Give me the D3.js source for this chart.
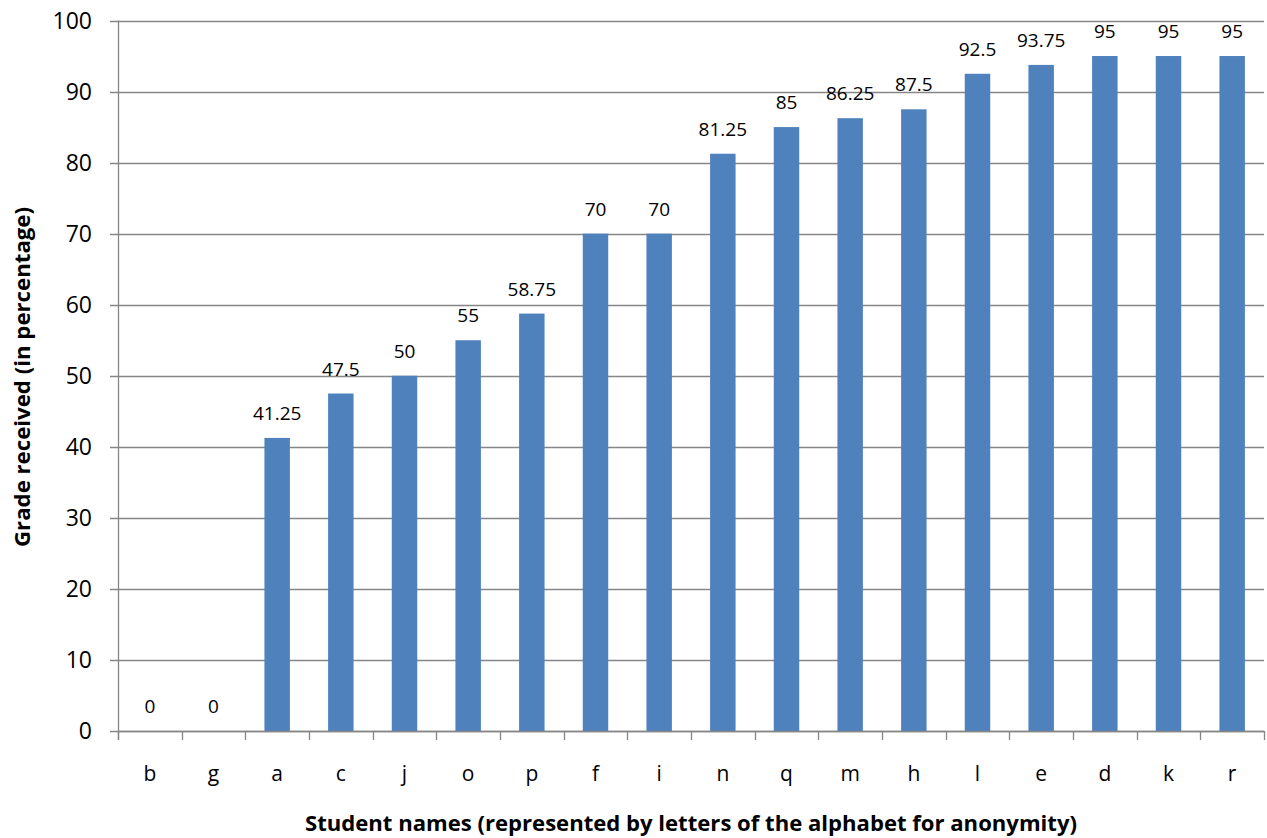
<!DOCTYPE html>
<html>
<head>
<meta charset="utf-8">
<script src="https://cdn.jsdelivr.net/npm/d3@7"></script>
<style>
  html, body { margin: 0; padding: 0; background: #fff; }
  svg { display: block; }
  text { font-family: "Open Sans", "Noto Sans", sans-serif; fill: #000; }
</style>
</head>
<body>
<svg id="chart" width="1267" height="838"></svg>
<script>
// Students (anonymised letters), sorted by grade
const students = ["b", "g", "a", "c", "j", "o", "p", "f", "i", "n", "q", "m", "h", "l", "e", "d", "k", "r"];
const grades = [0, 0, 41.25, 47.5, 50, 55, 58.75, 70, 70, 81.25, 85, 86.25, 87.5, 92.5, 93.75, 95, 95, 95];
const yTicks = [0, 10, 20, 30, 40, 50, 60, 70, 80, 90, 100];

const xTitle = "Student names (represented by letters of the alphabet for anonymity)";
const yTitle = "Grade received (in percentage)";

const data = students.map((s, i) => ({ name: s, value: grades[i] }));

const svg = d3.select("#chart");
const plotLeft = 118, plotRight = 1264, plotTop = 20.5, plotBottom = 731;
const gridColor = "#868686";
const barColor = "#4F81BD";

const x = d3.scaleBand()
  .domain(students)
  .range([plotLeft, plotRight])
  .paddingInner(0.6)
  .paddingOuter(0.3);

const y = d3.scaleLinear().domain([0, 100]).range([plotBottom, plotTop]);

// horizontal gridlines with small ticks left of the axis
svg.append("g")
  .selectAll("line")
  .data(yTicks)
  .join("line")
  .attr("x1", plotLeft - 8)
  .attr("x2", plotRight)
  .attr("y1", d => Math.round(y(d)) + 0.5)
  .attr("y2", d => Math.round(y(d)) + 0.5)
  .attr("stroke", gridColor)
  .attr("stroke-width", 1.3);

// y tick labels
svg.append("g")
  .selectAll("text")
  .data(yTicks)
  .join("text")
  .attr("x", 92)
  .attr("y", d => y(d))
  .attr("dy", "0.36em")
  .attr("text-anchor", "end")
  .style("font-size", "23px")
  .text(d => d);

// y axis line
svg.append("line")
  .attr("x1", plotLeft + 0.5).attr("x2", plotLeft + 0.5)
  .attr("y1", plotTop).attr("y2", plotBottom + 9)
  .attr("stroke", gridColor).attr("stroke-width", 1.3);

// x tick marks at category boundaries
const step = x.step();
const boundaries = d3.range(students.length + 1).map(i => plotLeft + i * step);
svg.append("g")
  .selectAll("line")
  .data(boundaries)
  .join("line")
  .attr("x1", d => Math.round(d) + 0.5)
  .attr("x2", d => Math.round(d) + 0.5)
  .attr("y1", plotBottom)
  .attr("y2", plotBottom + 9)
  .attr("stroke", gridColor)
  .attr("stroke-width", 1.3);

// bars
svg.append("g")
  .selectAll("rect")
  .data(data)
  .join("rect")
  .attr("x", d => x(d.name))
  .attr("width", x.bandwidth())
  .attr("y", d => y(d.value))
  .attr("height", d => y(0) - y(d.value))
  .attr("fill", barColor);

// baseline drawn over bars
svg.append("line")
  .attr("x1", plotLeft).attr("x2", plotRight)
  .attr("y1", Math.round(plotBottom) + 0.5).attr("y2", Math.round(plotBottom) + 0.5)
  .attr("stroke", gridColor).attr("stroke-width", 1.3);

// value labels
svg.append("g")
  .selectAll("text")
  .data(data)
  .join("text")
  .attr("x", d => x(d.name) + x.bandwidth() / 2)
  .attr("y", d => y(d.value) - 18)
  .attr("text-anchor", "middle")
  .style("font-size", "19px")
  .text(d => String(d.value));

// category labels
svg.append("g")
  .selectAll("text")
  .data(data)
  .join("text")
  .attr("x", d => x(d.name) + x.bandwidth() / 2)
  .attr("y", 781)
  .attr("text-anchor", "middle")
  .style("font-size", "21px")
  .text(d => d.name);

// axis titles
svg.append("text")
  .attr("x", 691)
  .attr("y", 831)
  .attr("text-anchor", "middle")
  .attr("textLength", 772)
  .attr("lengthAdjust", "spacingAndGlyphs")
  .style("font-size", "22px")
  .style("font-weight", "bold")
  .text(xTitle);

svg.append("text")
  .attr("transform", "translate(30,377) rotate(-90)")
  .attr("text-anchor", "middle")
  .attr("textLength", 340)
  .attr("lengthAdjust", "spacingAndGlyphs")
  .style("font-size", "22px")
  .style("font-weight", "bold")
  .text(yTitle);
</script>
</body>
</html>
